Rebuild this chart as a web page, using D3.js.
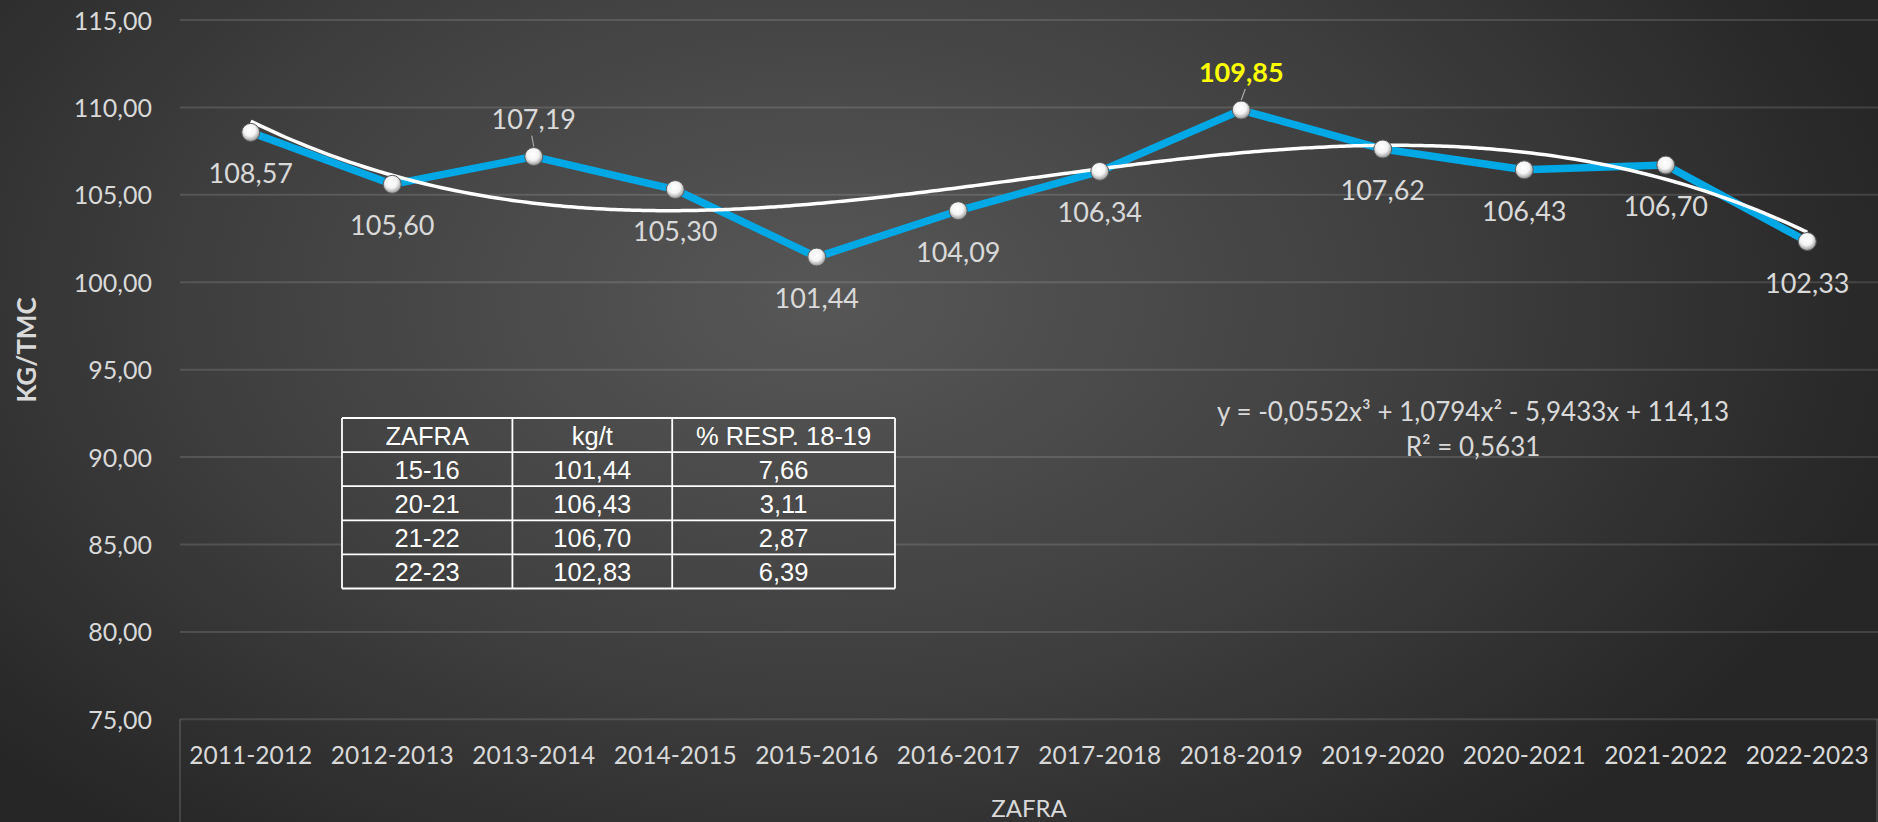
<!DOCTYPE html>
<html>
<head>
<meta charset="utf-8">
<script src="https://cdn.jsdelivr.net/npm/d3@7"></script>
<style>
  html, body { margin: 0; padding: 0; background: #2b2b2b; overflow: hidden; }
  svg { display: block; }
</style>
</head>
<body>
<svg id="chart" width="1878" height="822"></svg>
<script>
// ---------------- DATA ----------------
const categories = ["2011-2012","2012-2013","2013-2014","2014-2015","2015-2016","2016-2017",
                    "2017-2018","2018-2019","2019-2020","2020-2021","2021-2022","2022-2023"];
const values = [108.57, 105.60, 107.19, 105.30, 101.44, 104.09, 106.34, 109.85, 107.62, 106.43, 106.70, 102.33];
const yTicks = [75, 80, 85, 90, 95, 100, 105, 110, 115];
// polynomial trendline coefficients as printed on the chart (c0 + c1 x + c2 x^2 + c3 x^3)
const trendCoef = [114.13, -5.9433, 1.0794, -0.0552];
const trendR2 = 0.5631;
const tableHeader = ["ZAFRA", "kg/t", "% RESP. 18-19"];
const tableZafra = ["15-16", "20-21", "21-22", "22-23"];
const tableKg = [101.44, 106.43, 106.70, 102.83];
const tablePct = [7.66, 3.11, 2.87, 6.39];
const yTitle = "KG/TMC";
const xTitle = "ZAFRA";

// ---------------- SETUP ----------------
const W = 1878, H = 822;
const svg = d3.select("#chart");
const fmt = v => d3.format(".2f")(v).replace(".", ",");
const fmtCoef = (v, d) => d3.format("." + d + "f")(Math.abs(v)).replace(".", ",");

const defs = svg.append("defs");
const bg = defs.append("radialGradient").attr("id", "bg")
  .attr("gradientUnits", "userSpaceOnUse")
  .attr("cx", 820).attr("cy", 300).attr("r", 1100)
  .attr("gradientTransform", "translate(820,300) scale(1,0.62) translate(-820,-300)");
bg.append("stop").attr("offset", "0").attr("stop-color", "#575757");
bg.append("stop").attr("offset", "0.55").attr("stop-color", "#3f3f3f");
bg.append("stop").attr("offset", "1").attr("stop-color", "#262626");

const mk = defs.append("radialGradient").attr("id", "mk")
  .attr("cx", "45%").attr("cy", "38%").attr("r", "60%");
mk.append("stop").attr("offset", "0").attr("stop-color", "#ffffff");
mk.append("stop").attr("offset", "0.55").attr("stop-color", "#f4f4f4");
mk.append("stop").attr("offset", "1").attr("stop-color", "#9a9a9a");

svg.append("rect").attr("width", W).attr("height", H).attr("fill", "url(#bg)");

const plot = { left: 180, right: 1878, top: 20, bottom: 719.3 };
const x = d3.scaleBand().domain(categories).range([plot.left, plot.right]).padding(0);
const xc = c => x(c) + x.bandwidth() / 2;
const y = d3.scaleLinear().domain([75, 115]).range([plot.bottom, plot.top]);
// numeric x (1..12) for the trendline
const xn = d3.scaleLinear().domain([1, categories.length]).range([xc(categories[0]), xc(categories[categories.length - 1])]);

const gridColor = "rgba(255,255,255,0.13)";
const textColor = "#d9d9d9";
const font = "Lato, 'Open Sans', sans-serif";

// gridlines
svg.append("g").selectAll("line").data(yTicks).join("line")
  .attr("x1", plot.left).attr("x2", plot.right)
  .attr("y1", d => y(d)).attr("y2", d => y(d))
  .attr("stroke", gridColor).attr("stroke-width", 2);

// category axis box
const axisBox = svg.append("g").attr("stroke", gridColor).attr("stroke-width", 2);
axisBox.append("line").attr("x1", plot.left).attr("x2", plot.left).attr("y1", plot.bottom).attr("y2", H);
axisBox.append("line").attr("x1", plot.right - 1).attr("x2", plot.right - 1).attr("y1", plot.bottom).attr("y2", H);

// y axis
const yAxis = d3.axisLeft(y).tickValues(yTicks).tickSize(0).tickPadding(0).tickFormat(fmt);
const gy = svg.append("g").attr("transform", `translate(152,0)`).call(yAxis);
gy.select(".domain").remove();
gy.selectAll("text").attr("fill", textColor).attr("font-family", font).attr("font-size", 25)
  .attr("dy", "0.36em");

// x axis
const xAxis = d3.axisBottom(x).tickSize(0).tickPadding(0);
const gx = svg.append("g").attr("transform", `translate(0,764)`).call(xAxis);
gx.select(".domain").remove();
gx.selectAll("text").attr("fill", textColor).attr("font-family", font).attr("font-size", 24.5)
  .attr("dy", "0");

// axis titles
svg.append("text").text(xTitle)
  .attr("x", (plot.left + plot.right) / 2).attr("y", 817)
  .attr("text-anchor", "middle").attr("fill", textColor)
  .attr("font-family", font).attr("font-size", 24);
svg.append("text").text(yTitle)
  .attr("transform", "translate(36,350) rotate(-90)")
  .attr("text-anchor", "middle").attr("fill", textColor)
  .attr("font-family", font).attr("font-weight", "bold").attr("font-size", 26);

// data line
const line = d3.line().x((d, i) => xc(categories[i])).y(d => y(d));
svg.append("path").datum(values).attr("d", line)
  .attr("fill", "none").attr("stroke", "#00a9e6").attr("stroke-width", 7.5)
  .attr("stroke-linejoin", "round");

// trendline
const trendX = d3.range(1, categories.length + 0.001, 0.05);
const poly = t => trendCoef.reduce((s, c, k) => s + c * Math.pow(t, k), 0);
svg.append("path").datum(trendX)
  .attr("d", d3.line().x(t => xn(t)).y(t => y(poly(t))).curve(d3.curveMonotoneX))
  .attr("fill", "none").attr("stroke", "#ffffff").attr("stroke-width", 3.5);

// markers
svg.append("g").selectAll("circle").data(values).join("circle")
  .attr("cx", (d, i) => xc(categories[i])).attr("cy", d => y(d)).attr("r", 9)
  .attr("fill", "url(#mk)").attr("stroke", "#5a5a5a").attr("stroke-width", 1);

// data labels
const aboveIdx = new Set([2, 7]);
const maxIdx = values.indexOf(d3.max(values));
const lbl = svg.append("g");
values.forEach((v, i) => {
  const cx = xc(categories[i]), cy = y(v);
  const above = aboveIdx.has(i);
  const isMax = i === maxIdx;
  lbl.append("text").text(fmt(v))
    .attr("x", cx).attr("y", above ? cy - 28 : cy + 51)
    .attr("text-anchor", "middle")
    .attr("fill", isMax ? "#ffff00" : textColor)
    .attr("font-weight", isMax ? "bold" : "normal")
    .attr("font-family", font).attr("font-size", 27);
  if (above) {
    lbl.append("line")
      .attr("x1", cx + (isMax ? 4 : -2)).attr("y1", cy - 21)
      .attr("x2", cx).attr("y2", cy - 10)
      .attr("stroke", "#a6a6a6").attr("stroke-width", 1.2);
  }
});

// trend equation
const eq = `y = -${fmtCoef(trendCoef[3], 4)}x³ + ${fmtCoef(trendCoef[2], 4)}x² - ${fmtCoef(trendCoef[1], 4)}x + ${fmtCoef(trendCoef[0], 2)}`;
svg.append("text").text(eq).attr("x", 1473).attr("y", 421)
  .attr("text-anchor", "middle").attr("fill", textColor)
  .attr("font-family", font).attr("font-size", 26);
svg.append("text").text(`R² = ${fmtCoef(trendR2, 4)}`).attr("x", 1473).attr("y", 456)
  .attr("text-anchor", "middle").attr("fill", textColor)
  .attr("font-family", font).attr("font-size", 26);

// table
const colX = [342, 512.4, 672.2, 895];
const rowH = 34.1, tTop = 418;
const rows = [tableHeader].concat(tableZafra.map((z, i) => [z, fmt(tableKg[i]), fmt(tablePct[i])]));
const tg = svg.append("g");
tg.append("rect").attr("x", colX[0]).attr("y", tTop)
  .attr("width", colX[3] - colX[0]).attr("height", rowH * rows.length)
  .attr("fill", "url(#bg)");
rows.forEach((r, ri) => {
  r.forEach((cell, ci) => {
    tg.append("text").text(cell)
      .attr("x", (colX[ci] + colX[ci + 1]) / 2)
      .attr("y", tTop + rowH * ri + rowH / 2 + 9.5)
      .attr("text-anchor", "middle").attr("fill", "#ffffff")
      .attr("font-family", "'Liberation Sans', Arial, sans-serif").attr("font-size", 25.5);
  });
});
const tl = tg.append("g").attr("stroke", "#ffffff").attr("stroke-width", 1.8);
d3.range(rows.length + 1).forEach(k => {
  tl.append("line").attr("x1", colX[0]).attr("x2", colX[3])
    .attr("y1", tTop + rowH * k).attr("y2", tTop + rowH * k);
});
colX.forEach(cx => {
  tl.append("line").attr("x1", cx).attr("x2", cx)
    .attr("y1", tTop).attr("y2", tTop + rowH * rows.length);
});
</script>
</body>
</html>
